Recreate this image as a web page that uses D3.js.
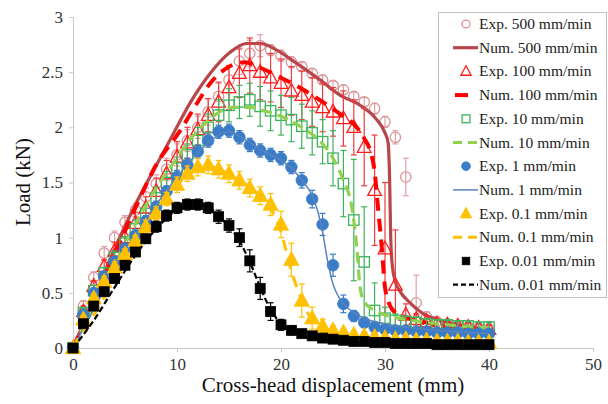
<!DOCTYPE html>
<html><head><meta charset="utf-8">
<script src="https://cdn.jsdelivr.net/npm/d3@7"></script>
<style>body{margin:0;background:#fff}svg{display:block}</style>
</head><body>
<svg id="c" width="608" height="404"></svg>
<script>
const xTicks = [0,10,20,30,40,50];
const yTicks = [0,0.5,1,1.5,2,2.5,3];
const expX = [0,1,2,3,4,5,6,7,8,9,10,11,12,13,14,15,16,17,18,19,20,21,22,23,24,25,26,27,28,29,30,31,32,33,34,35,36,37,38,39,40];

const exp500 = [0,0.38,0.64,0.86,1.0,1.14,1.25,1.37,1.49,1.62,1.75,1.88,2.0,2.14,2.28,2.43,2.6,2.67,2.74,2.7,2.65,2.59,2.55,2.49,2.43,2.38,2.34,2.28,2.23,2.17,2.05,1.91,1.55,0.41,0.28,0.24,0.22,0.2,0.19,0.18,0.17];
const err500 = [0,0.05,0.05,0.06,0.06,0.06,0.06,0.08,0.08,0.1,0.1,0.1,0.1,0.12,0.12,0.12,0.12,0.12,0.1,0.05,0.05,0.05,0.04,0.04,0.04,0.04,0.04,0.04,0.04,0.05,0.05,0.06,0.17,0.25,0.05,0.04,0.03,0.03,0.03,0.03,0.03];
const exp100 = [0,0.33,0.56,0.74,0.88,1.0,1.13,1.27,1.42,1.58,1.73,1.86,1.98,2.11,2.23,2.36,2.49,2.56,2.5,2.45,2.4,2.33,2.29,2.23,2.18,2.14,2.08,2.0,1.82,1.43,0.9,0.57,0.3,0.26,0.24,0.22,0.21,0.2,0.19,0.18,0.17];
const err100 = [0,0.05,0.05,0.06,0.08,0.1,0.1,0.1,0.12,0.12,0.14,0.14,0.14,0.15,0.18,0.2,0.22,0.25,0.25,0.22,0.22,0.22,0.22,0.22,0.22,0.22,0.25,0.25,0.35,0.5,0.6,0.5,0.1,0.05,0.05,0.04,0.04,0.04,0.04,0.04,0.04];
const exp10 = [0,0.32,0.52,0.68,0.82,0.95,1.08,1.22,1.36,1.5,1.63,1.75,1.88,2.0,2.11,2.2,2.23,2.25,2.19,2.15,2.11,2.07,2.01,1.95,1.87,1.72,1.49,1.16,0.78,0.34,0.27,0.25,0.24,0.23,0.22,0.21,0.21,0.2,0.2,0.19,0.19];
const err10 = [0,0.04,0.05,0.05,0.06,0.06,0.08,0.08,0.1,0.1,0.1,0.1,0.12,0.12,0.14,0.15,0.15,0.15,0.18,0.18,0.18,0.2,0.2,0.2,0.2,0.25,0.3,0.55,0.5,0.25,0.1,0.06,0.05,0.05,0.04,0.04,0.04,0.04,0.04,0.04,0.04];
const exp1 = [0,0.3,0.5,0.65,0.78,0.9,1.02,1.15,1.28,1.42,1.55,1.66,1.78,1.88,1.96,1.97,1.91,1.84,1.79,1.75,1.72,1.64,1.52,1.35,1.12,0.75,0.4,0.29,0.23,0.19,0.17,0.16,0.16,0.15,0.15,0.14,0.14,0.14,0.13,0.13,0.13];
const err1 = [0,0.03,0.04,0.04,0.05,0.05,0.05,0.05,0.05,0.05,0.06,0.06,0.06,0.06,0.06,0.06,0.06,0.06,0.06,0.06,0.06,0.06,0.07,0.08,0.1,0.1,0.08,0.05,0.04,0.03,0.03,0.03,0.03,0.03,0.03,0.03,0.03,0.03,0.03,0.03,0.03];
const exp01 = [0,0.26,0.45,0.6,0.73,0.85,0.97,1.1,1.22,1.35,1.48,1.58,1.64,1.66,1.62,1.58,1.52,1.45,1.38,1.3,1.12,0.8,0.43,0.27,0.2,0.16,0.14,0.12,0.11,0.1,0.09,0.08,0.08,0.07,0.07,0.06,0.06,0.06,0.05,0.05,0.05];
const err01 = [0,0.03,0.04,0.05,0.05,0.05,0.05,0.06,0.06,0.06,0.07,0.07,0.08,0.08,0.08,0.08,0.08,0.08,0.08,0.1,0.12,0.15,0.15,0.1,0.06,0.04,0.03,0.03,0.03,0.03,0.03,0.03,0.03,0.03,0.03,0.03,0.03,0.03,0.03,0.03,0.03];
const exp001 = [0,0.22,0.38,0.51,0.63,0.75,0.87,0.99,1.1,1.2,1.27,1.3,1.3,1.27,1.19,1.11,1.0,0.79,0.54,0.33,0.21,0.16,0.13,0.11,0.09,0.08,0.07,0.06,0.06,0.05,0.05,0.04,0.04,0.04,0.04,0.03,0.03,0.03,0.03,0.03,0.03];
const err001 = [0,0.03,0.03,0.03,0.04,0.04,0.04,0.04,0.05,0.05,0.05,0.05,0.05,0.05,0.06,0.06,0.08,0.1,0.1,0.08,0.05,0.04,0.03,0.03,0.03,0.03,0.03,0.03,0.03,0.03,0.03,0.03,0.03,0.03,0.03,0.03,0.03,0.03,0.03,0.03,0.03];

const num500X = [0,2,4,6,7.4,9.3,11.25,13.2,15.1,16.7,18,19.6,21.2,23.75,25.7,27.6,29.2,30,30.3,30.45,30.55,30.7,31,31.4,32.4,33.7,35,37,40];
const num500Y = [0,0.45,0.9,1.3,1.55,1.88,2.22,2.49,2.68,2.76,2.76,2.7,2.6,2.43,2.29,2.2,2.07,1.95,1.86,1.5,1.0,0.75,0.6,0.52,0.41,0.31,0.26,0.21,0.17];
const num100X = [0,2,4,6,8,10.3,12,13.2,15,16.5,18,20,22,24,26,27,28,28.6,29,29.3,29.7,30,30.5,31,32,34,36,38,40];
const num100Y = [0,0.42,0.85,1.27,1.66,1.97,2.23,2.4,2.55,2.59,2.54,2.45,2.35,2.23,2.1,2.03,1.9,1.78,1.6,1.3,0.9,0.55,0.38,0.32,0.28,0.23,0.19,0.16,0.14];
const num10X = [0,2,4,6,8,10,11,12,13.2,14.1,15.4,17,18,20,22,24,25,26,26.8,27.3,27.6,28,29,30,32,35,40];
const num10Y = [0,0.38,0.76,1.12,1.45,1.72,1.86,1.97,2.08,2.14,2.18,2.18,2.16,2.1,2.0,1.85,1.72,1.52,1.28,0.9,0.55,0.42,0.34,0.3,0.26,0.22,0.18];
const num1X = [0,2,4,6,8,10,12,14,15,16,18,20,21,22,23,23.5,24,24.5,25,25.5,26,27,28,30,32,35,40];
const num1Y = [0,0.35,0.7,1.02,1.3,1.55,1.77,1.93,1.96,1.92,1.8,1.7,1.63,1.52,1.38,1.25,1.05,0.78,0.58,0.47,0.4,0.32,0.27,0.22,0.19,0.16,0.13];
const num01X = [0,2,4,6,8,10,12,13,14,16,18,19,20,21,22,23,24,25,26,28,30,35,40];
const num01Y = [0,0.3,0.62,0.95,1.25,1.48,1.62,1.65,1.62,1.52,1.38,1.27,1.05,0.7,0.43,0.25,0.16,0.12,0.1,0.08,0.07,0.05,0.04];
const num001X = [0,2,4,6,8,10,11,12,13,14,15,16,17,18,19,20,21,22,24,26,30,35,40];
const num001Y = [0,0.25,0.55,0.84,1.08,1.25,1.29,1.3,1.28,1.2,1.1,0.97,0.78,0.55,0.35,0.22,0.15,0.11,0.07,0.05,0.03,0.02,0.015];

const legendLabels = ["Exp. 500 mm/min","Num. 500 mm/min","Exp. 100 mm/min","Num. 100 mm/min","Exp. 10 mm/min","Num. 10 mm/min","Exp. 1 mm/min","Num. 1 mm/min","Exp. 0.1 mm/min","Num. 0.1 mm/min","Exp. 0.01 mm/min","Num. 0.01 mm/min"];

const svg = d3.select("#c");
const x = d3.scaleLinear().domain([0,50]).range([73,593]);
const y = d3.scaleLinear().domain([0,3]).range([348,17]);
const serif = "'Liberation Serif', 'Times New Roman', serif";
const axisCol = "#c8c8c8";

const gx = svg.append("g").attr("transform","translate(0,348)")
  .call(d3.axisBottom(x).tickValues(xTicks).tickSize(4).tickPadding(6).tickFormat(d3.format("d")));
const gy = svg.append("g").attr("transform","translate(73,0)")
  .call(d3.axisLeft(y).tickValues(yTicks).tickSize(4).tickPadding(6).tickFormat(d=>String(d)));
[gx,gy].forEach(g=>{
  g.attr("font-family",serif).attr("font-size",17);
  g.selectAll("path,line").attr("stroke",axisCol);
  g.selectAll("text").attr("fill","#333");
});
svg.append("text").attr("x",333).attr("y",392).attr("text-anchor","middle")
  .attr("font-family",serif).attr("font-size",21).attr("fill","#111").text("Cross-head displacement (mm)");
svg.append("text").attr("transform","translate(30,182) rotate(-90)").attr("text-anchor","middle")
  .attr("font-family",serif).attr("font-size",21).attr("fill","#111").text("Load (kN)");

const series = [
  {exp:exp500, err:err500, nx:num500X, ny:num500Y, col:"#d9959b", errCol:"#e0a0a6", sym:"circle", fill:"none", size:5.2, line:{c:"#b8474c", w:3.2, dash:null}, ld:null},
  {exp:exp100, err:err100, nx:num100X, ny:num100Y, col:"#ff1a1a", errCol:"#f03c3c", sym:"triangle", fill:"none", size:6.8, line:{c:"#ff0000", w:4, dash:"13,8"}, ld:null},
  {exp:exp10, err:err10, nx:num10X, ny:num10Y, col:"#3cb35c", errCol:"#3cb35c", sym:"square", fill:"none", size:5.2, line:{c:"#92d050", w:3.2, dash:"11,6"}, ld:"9,6"},
  {exp:exp1, err:err1, nx:num1X, ny:num1Y, col:"#3a7cc8", errCol:"#3a7cc8", sym:"circle", fill:"#3a7cc8", size:5.8, line:{c:"#5a83bd", w:1.5, dash:null}, ld:null},
  {exp:exp01, err:err01, nx:num01X, ny:num01Y, col:"#ffc000", errCol:"#ffc000", sym:"triangle", fill:"#ffc000", size:7.6, line:{c:"#ffc000", w:3, dash:"11,8"}, ld:"9,6"},
  {exp:exp001, err:err001, nx:num001X, ny:num001Y, col:"#000", errCol:"#000", sym:"square", fill:"#000", size:5, line:{c:"#000", w:2.2, dash:"6,3"}, ld:"5,3"}
];

function drawSym(g, s, cx, cy, scale){
  const r = s.size*scale;
  let el;
  if(s.sym==="circle") el = g.append("circle").attr("cx",cx).attr("cy",cy).attr("r",r);
  else if(s.sym==="square") el = g.append("rect").attr("x",cx-r).attr("y",cy-r).attr("width",2*r).attr("height",2*r);
  else el = g.append("path").attr("d",`M${cx},${cy-r*1.1}L${cx+r},${cy+r*0.75}L${cx-r},${cy+r*0.75}Z`);
  el.attr("fill",s.fill).attr("stroke",s.col).attr("stroke-width",s.fill==="none"?1.3:0.8);
}

const line = d3.line().x(d=>x(d[0])).y(d=>y(d[1])).curve(d3.curveMonotoneX);
const plot = svg.append("g");
series.forEach(s=>{
  const g = plot.append("g");
  expX.forEach((xv,i)=>{
    const e = s.err[i]; if(!e) return;
    const cx = x(xv), y1 = y(s.exp[i]+e), y2 = y(Math.max(0,s.exp[i]-e));
    g.append("line").attr("x1",cx).attr("x2",cx).attr("y1",y1).attr("y2",y2).attr("stroke",s.errCol).attr("stroke-width",1.2);
    [y1,y2].forEach(yy=>g.append("line").attr("x1",cx-3).attr("x2",cx+3).attr("y1",yy).attr("y2",yy).attr("stroke",s.errCol).attr("stroke-width",1.2));
  });
  expX.forEach((xv,i)=>drawSym(g,s,x(xv),y(s.exp[i]),1));
  const pts = s.nx.map((v,i)=>[v,s.ny[i]]);
  plot.append("path").datum(pts).attr("d",line).attr("fill","none")
    .attr("stroke",s.line.c).attr("stroke-width",s.line.w).attr("stroke-dasharray",s.line.dash);
});

const lg = svg.append("g");
lg.append("rect").attr("x",438.5).attr("y",12.5).attr("width",168).attr("height",285)
  .attr("fill","#fff").attr("stroke","#c0c0c0").attr("stroke-width",1);
legendLabels.forEach((lab,i)=>{
  const yy = 24 + i*23.7;
  const s = series[Math.floor(i/2)];
  if(i%2===0){
    const ss = Object.assign({},s,{size: s.size*0.75});
    drawSym(lg, ss, 466, yy, 1);
  } else {
    const short = i===3;
    lg.append("line").attr("x1",short?455:453).attr("x2",short?468:478).attr("y1",yy).attr("y2",yy)
      .attr("stroke",s.line.c).attr("stroke-width",s.line.w).attr("stroke-dasharray",s.ld);
  }
  lg.append("text").attr("x",479).attr("y",yy+5).attr("font-family",serif).attr("font-size",15.5)
    .attr("fill","#222").text(lab);
});
</script>
</body></html>
